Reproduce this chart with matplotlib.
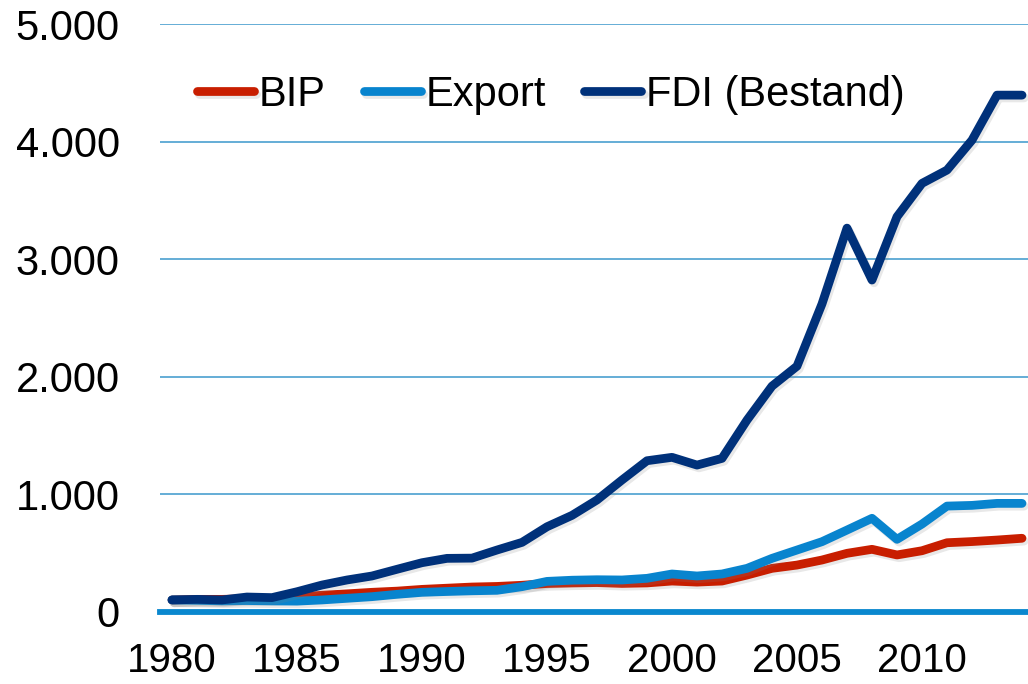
"""Index chart: BIP, Export and FDI stock, 1980 = 100."""

import matplotlib

matplotlib.use("Agg")
import matplotlib.pyplot as plt
import matplotlib.patheffects as pe

years = list(range(1980, 2015))

bip = [100, 105, 105, 110, 112, 125, 140, 152, 165, 175,
       190, 200, 210, 215, 225, 240, 245, 248, 241, 245,
       261, 252, 261, 312, 369, 397, 440, 497, 531, 483,
       519, 587, 597, 610, 625]
export = [100, 97, 92, 95, 92, 90, 100, 114, 128, 148,
          165, 172, 178, 182, 213, 258, 268, 272, 270, 284,
          321, 304, 321, 369, 454, 525, 596, 695, 795, 616,
          746, 899, 905, 922, 922]
fdi = [100, 105, 100, 125, 120, 170, 227, 270, 304, 361,
       417, 454, 456, 525, 590, 723, 820, 951, 1121, 1285,
       1314, 1248, 1305, 1631, 1920, 2090, 2620, 3265, 2823, 3362,
       3646, 3759, 4014, 4397, 4397]

series_labels = ["BIP", "Export", "FDI (Bestand)"]
x_ticks = [1980, 1985, 1990, 1995, 2000, 2005, 2010]
y_ticks = [0, 1000, 2000, 3000, 4000, 5000]
y_tick_labels = ["0", "1.000", "2.000", "3.000", "4.000", "5.000"]

plt.rcParams["font.family"] = ["Liberation Sans", "DejaVu Sans"]

fig = plt.figure(figsize=(10.28, 6.84), dpi=100)
ax = fig.add_axes([160 / 1028, (684 - 611.7) / 684, 868 / 1028, 587.4 / 684])

# gridlines and the heavier zero line
for v in y_ticks[1:]:
    ax.axhline(v, color="#4A9FD0", linewidth=1.2, zorder=1)
ax.axhline(0, color="#0A88CF", linewidth=4.2, zorder=1, clip_on=False)

shadow = [pe.SimpleLineShadow(offset=(1.5, -2), shadow_color="gray", alpha=0.18), pe.Normal()]
colors = ["#C81E00", "#0884CE", "#00317A"]
for vals, label, color in zip([bip, export, fdi], series_labels, colors):
    ax.plot(years, vals, color=color, linewidth=6.3, label=label,
            solid_capstyle="round", solid_joinstyle="round",
            path_effects=shadow, zorder=3, clip_on=False)

ax.set_xlim(1979.52, 2014.24)
ax.set_ylim(0, 5000)
ax.set_xticks(x_ticks)
ax.set_xticklabels([str(y) for y in x_ticks])
ax.set_yticks(y_ticks)
ax.set_yticklabels(y_tick_labels)
ax.tick_params(axis="y", length=0, labelsize=30, pad=29)
# x labels sit right at the bottom edge in the original
ax.tick_params(axis="x", length=0, labelsize=29, pad=22)
for s in ax.spines.values():
    s.set_visible(False)

ax.legend(
    loc="center left", bbox_to_anchor=(197 / 1028, 1 - 95 / 684),
    bbox_transform=fig.transFigure, ncol=3, frameon=False,
    fontsize=30, handlelength=1.37, handletextpad=0.1,
    columnspacing=0.93, borderpad=0, borderaxespad=0,
)

fig.savefig("out.png", dpi=100)
plt.close(fig)
